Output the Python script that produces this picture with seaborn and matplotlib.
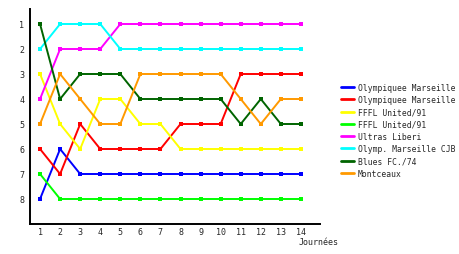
import matplotlib
matplotlib.use("Agg")
import matplotlib.pyplot as plt
import seaborn as sns
import pandas as pd

journees = list(range(1, 15))
teams = ["Olympiquee Marseille", "Olympiquee Marseille ", "FFFL United/91", "FFFL United/91 ",
         "Ultras Liberi", "Olymp. Marseille CJB", "Blues FC./74", "Montceaux"]
ranks = [
    [8, 6, 7, 7, 7, 7, 7, 7, 7, 7, 7, 7, 7, 7],
    [6, 7, 5, 6, 6, 6, 6, 5, 5, 5, 3, 3, 3, 3],
    [3, 5, 6, 4, 4, 5, 5, 6, 6, 6, 6, 6, 6, 6],
    [7, 8, 8, 8, 8, 8, 8, 8, 8, 8, 8, 8, 8, 8],
    [4, 2, 2, 2, 1, 1, 1, 1, 1, 1, 1, 1, 1, 1],
    [2, 1, 1, 1, 2, 2, 2, 2, 2, 2, 2, 2, 2, 2],
    [1, 4, 3, 3, 3, 4, 4, 4, 4, 4, 5, 4, 5, 5],
    [5, 3, 4, 5, 5, 3, 3, 3, 3, 3, 4, 5, 4, 4],
]
colors = ["#0000FF", "#FF0000", "#FFFF00", "#00FF00", "#FF00FF", "#00FFFF", "#006400", "#FF9900"]

rows = []
for t, r in zip(teams, ranks):
    for j, v in zip(journees, r):
        rows.append({"team": t, "journee": j, "rank": v})
df = pd.DataFrame(rows)

sns.set_style("white")
plt.rcParams["font.family"] = ["DejaVu Sans Mono"]

fig = plt.figure(figsize=(4.6, 2.55), dpi=100)
ax = fig.add_axes([30/460, 1-225/255, 290/460, 215/255])

sns.lineplot(data=df, x="journee", y="rank", hue="team", hue_order=teams,
             palette=colors, ax=ax, linewidth=1.4, marker="s", markersize=2.5,
             markeredgewidth=0, legend=False)

ax.set_xlim(0.5, 14.95)
ax.set_ylim(9, 0.4)
ax.set_xticks(journees)
ax.set_xticklabels([str(j) for j in journees], fontsize=6)
ax.set_yticks(range(1, 9))
ax.set_yticklabels([str(i) for i in range(1, 9)], fontsize=6)
ax.tick_params(axis="x", length=0, pad=2)
ax.tick_params(axis="y", length=0, pad=4)
ax.set_xlabel("")
ax.set_ylabel("")
for s in ["top", "right"]:
    ax.spines[s].set_visible(False)
for s in ["left", "bottom"]:
    ax.spines[s].set_color("black")
    ax.spines[s].set_linewidth(1.4)
fig.text(339/460, 1-243/255, "Journées", fontsize=6, ha="right", va="center")

from matplotlib.lines import Line2D
handles = [Line2D([0], [0], color=c, lw=2) for c in colors]
fig.legend(handles, [t.strip() for t in teams], loc="upper left",
           bbox_to_anchor=(337/460, 1-80/255), frameon=False, fontsize=5.8,
           handlelength=1.6, handletextpad=0.5, labelspacing=0.4, borderpad=0)

fig.savefig("out.png", dpi=100)
